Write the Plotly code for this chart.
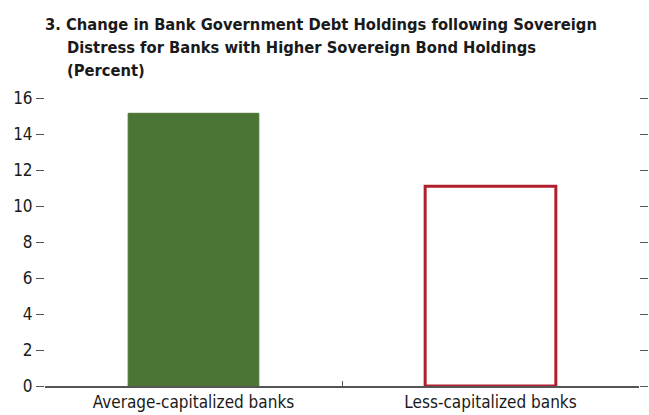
import plotly.graph_objects as go

categories = ["Average-capitalized banks", "Less-capitalized banks"]
values = [15.15, 11.1]
y_ticks = [0, 2, 4, 6, 8, 10, 12, 14, 16]
title_lines = [
    "3. Change in Bank Government Debt Holdings following Sovereign",
    "Distress for Banks with Higher Sovereign Bond Holdings",
    "(Percent)",
]

FONT = "DejaVu Sans Condensed, Liberation Sans Narrow, sans-serif"
GREEN = "#4a7535"
RED = "#b01f2e"
AXIS = "#555555"

fig = go.Figure()
fig.add_trace(go.Bar(
    x=[categories[0]], y=[values[0]],
    marker=dict(color=GREEN, line=dict(color=GREEN, width=1)),
    width=0.44, showlegend=False, hoverinfo="skip"))
fig.add_trace(go.Bar(
    x=[categories[1]], y=[values[1]],
    marker=dict(color="white", line=dict(color=RED, width=3)),
    width=0.44, showlegend=False, hoverinfo="skip"))

# title lines: (x shift px from plot left, y px from top)
title_pos = [(0, 24), (22, 47), (22, 70)]
annotations = []
for text, (dx, ty) in zip(title_lines, title_pos):
    annotations.append(dict(
        text="<b>" + text + "</b>", xref="paper", yref="paper", x=0, y=1,
        xshift=dx - 2, yshift=98 - ty, xanchor="left", yanchor="middle",
        align="left", showarrow=False,
        font=dict(family=FONT, size=16.4, color="#1a1a1a")))

fig.update_layout(
    width=649, height=415,
    margin=dict(l=45, r=10, t=98, b=29, autoexpand=False),
    paper_bgcolor="white", plot_bgcolor="white",
    font=dict(family=FONT, size=16, color="#1a1a1a"),
    xaxis=dict(type="category", categoryorder="array", automargin=False,
               categoryarray=categories, showline=True, linecolor=AXIS,
               linewidth=1.5, ticks="inside", tickson="boundaries", ticklen=5,
               tickcolor=AXIS, showgrid=False, zeroline=False,
               tickfont=dict(family=FONT, size=17, color="#1a1a1a")),
    yaxis=dict(range=[0, 16], tickvals=y_ticks, ticks="outside", ticklen=8,
               automargin=False,
               tickcolor=AXIS, showline=False, mirror="ticks", showgrid=False,
               zeroline=False, tickfont=dict(family=FONT, size=17, color="#1a1a1a")),
    annotations=annotations,
)

fig.write_html("out.html")
